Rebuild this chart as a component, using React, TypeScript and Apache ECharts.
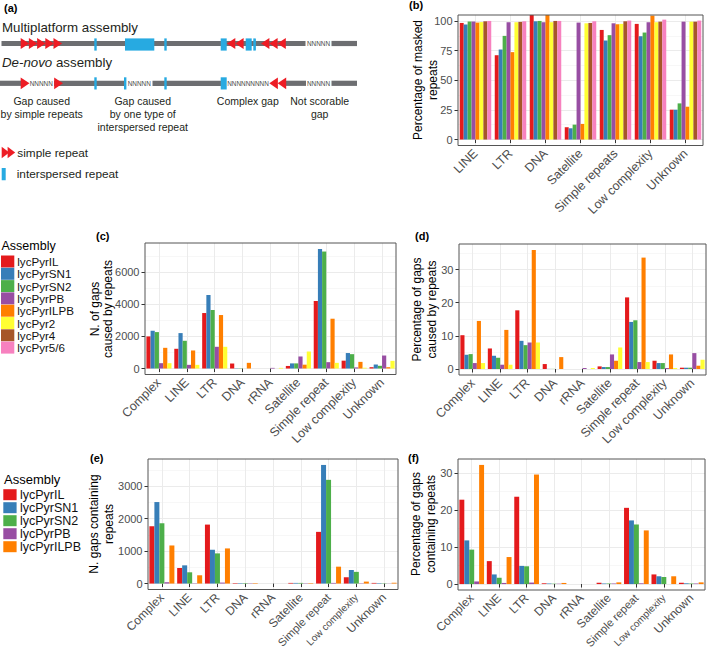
import React, { useEffect, useRef } from 'react';
import * as echarts from 'echarts';

const FONT = '"Liberation Sans", Arial, Helvetica, sans-serif';

// ---------- data ----------
const assemblies = ['lycPyrIL', 'lycPyrSN1', 'lycPyrSN2', 'lycPyrPB', 'lycPyrILPB', 'lycPyr2', 'lycPyr4', 'lycPyr5/6'];
const assemblyColors = ['#E41A1C', '#377EB8', '#4DAF4A', '#984EA3', '#FF7F00', '#FFFF33', '#A65628', '#F781BF'];

const repeatClasses = ['LINE', 'LTR', 'DNA', 'Satellite', 'Simple repeats', 'Low complexity', 'Unknown'];
const gapClasses = ['Complex', 'LINE', 'LTR', 'DNA', 'rRNA', 'Satellite', 'Simple repeat', 'Low complexity', 'Unknown'];

// (b) percentage of masked repeats
const maskedIL = [98.3, 71.1, 107, 10.4, 92.4, 97.5, 25.2];
const maskedSN1 = [97, 75.9, 99.7, 9.5, 83.5, 87.1, 25.2];
const maskedSN2 = [99.5, 87.4, 100, 12.6, 88, 90.2, 30.5];
const maskedPB = [99.5, 98.9, 98.9, 98.6, 98, 98.9, 99.4];
const maskedILPB = [98.6, 73.7, 107, 13.2, 97.2, 104.5, 27.7];
const maskedPyr2 = [99, 98.9, 98.9, 98, 97.5, 98.9, 99.4];
const maskedPyr4 = [99.7, 99.2, 100, 98.3, 99.7, 99.4, 99.4];
const maskedPyr56 = [100, 99.7, 100, 99.7, 100.3, 101.1, 100.3];

// (c) number of gaps caused by repeats
const causedNIL = [2000, 1230, 3458, 312, 0, 160, 4208, 490, 83];
const causedNSN1 = [2354, 2208, 4583, 20, 0, 320, 7450, 965, 250];
const causedNSN2 = [2270, 1729, 3646, 20, 0, 320, 7290, 895, 170];
const causedNPB = [333, 229, 1354, 0, 40, 750, 396, 70, 810];
const causedNILPB = [1290, 1125, 3333, 354, 0, 240, 3104, 415, 83];
const causedNPyr2 = [333, 229, 1354, 0, 40, 1060, 354, 50, 478];

// (d) percentage of gaps caused by repeats
const causedPIL = [10.2, 6.2, 17.7, 1.5, 0, 0.8, 21.6, 2.5, 0.4];
const causedPSN1 = [4.3, 4.0, 8.5, 0.05, 0, 0.6, 14.2, 1.8, 0.4];
const causedPSN2 = [4.5, 3.4, 7.2, 0.05, 0, 0.6, 14.7, 1.8, 0.4];
const causedPPB = [1.8, 1.3, 8.0, 0, 0.3, 4.4, 2.1, 0.3, 4.8];
const causedPILPB = [14.5, 11.8, 35.9, 3.6, 0, 2.5, 33.6, 4.4, 1.0];
const causedPPyr2 = [1.8, 1.3, 8.0, 0, 0.3, 6.5, 2.1, 0.3, 2.8];

// (e) number of gaps containing repeats
const containNIL = [1765, 480, 1816, 15, 0, 20, 1592, 194, 20];
const containNSN1 = [2510, 561, 1041, 15, 0, 20, 3653, 418, 15];
const containNSN2 = [1857, 347, 929, 15, 0, 20, 3194, 360, 10];
const containNPB = [41, 10, 30, 10, 0, 10, 20, 10, 5];
const containNILPB = [1173, 255, 1082, 15, 0, 15, 520, 60, 25];

// (f) percentage of gaps containing repeats
const containPIL = [22.8, 6.2, 23.6, 0.2, 0, 0.35, 20.6, 2.6, 0.35];
const containPSN1 = [11.8, 2.6, 4.9, 0.15, 0, 0.15, 17.2, 2.1, 0.2];
const containPSN2 = [9.3, 1.7, 4.8, 0.1, 0, 0.15, 16.1, 1.9, 0.15];
const containPPB = [0.7, 0.3, 0.4, 0.1, 0, 0.15, 0.2, 0, 0.15];
const containPILPB = [32.2, 7.3, 29.6, 0.3, 0, 0.45, 14.5, 2.1, 0.45];

// tick values
const ticksB = [0, 25, 50, 75, 100];
const minorB = [12.5, 37.5, 62.5, 87.5];
const ticksC = [0, 2000, 4000, 6000];
const minorC = [1000, 3000, 5000, 7000];
const ticksD = [0, 10, 20, 30];
const minorD = [5, 15, 25, 35];
const ticksE = [0, 1000, 2000, 3000];
const minorE = [500, 1500, 2500, 3500];
const ticksF = [0, 10, 20, 30];
const minorF = [5, 15, 25];

// ---------- layout ----------
type Panel = {
  grid: { left: number; top: number; width: number; height: number };
  cats: string[];
  data: number[][];
  min: number;
  max: number;
  ticks: number[];
  minor: number[];
  bottom?: boolean;
};

const panels: Panel[] = [
  {
    grid: { left: 458, top: 15, width: 245, height: 130.5 },
    cats: repeatClasses,
    data: [maskedIL, maskedSN1, maskedSN2, maskedPB, maskedILPB, maskedPyr2, maskedPyr4, maskedPyr56],
    min: -5, max: 105, ticks: ticksB, minor: minorB,
  },
  {
    grid: { left: 145, top: 243, width: 251, height: 131.5 },
    cats: gapClasses,
    data: [causedNIL, causedNSN1, causedNSN2, causedNPB, causedNILPB, causedNPyr2],
    min: -372.5, max: 7822.5, ticks: ticksC, minor: minorC,
  },
  {
    grid: { left: 459, top: 244, width: 247, height: 131 },
    cats: gapClasses,
    data: [causedPIL, causedPSN1, causedPSN2, causedPPB, causedPILPB, causedPPyr2],
    min: -1.8, max: 37.7, ticks: ticksD, minor: minorD,
  },
  {
    grid: { left: 148, top: 459, width: 250, height: 130.5 },
    cats: gapClasses,
    data: [containNIL, containNSN1, containNSN2, containNPB, containNILPB],
    min: -183, max: 3836, ticks: ticksE, minor: minorE, bottom: true,
  },
  {
    grid: { left: 458, top: 459, width: 247, height: 131 },
    cats: gapClasses,
    data: [containPIL, containPSN1, containPSN2, containPPB, containPILPB],
    min: -1.61, max: 33.8, ticks: ticksF, minor: minorF, bottom: true,
  },
];

const TICK_COLOR = '#4d4d4d';
const GRID_MAJOR = '#ebebeb';
const GRID_MINOR = '#f4f4f4';

function buildOption() {
  const grids: any[] = [];
  const xAxes: any[] = [];
  const yAxes: any[] = [];
  const series: any[] = [];
  panels.forEach((p, i) => {
    grids.push({
      ...p.grid,
      show: true,
      z: 5,
      backgroundColor: 'transparent',
      borderColor: '#555',
      borderWidth: 1,
      containLabel: false,
      outerBoundsMode: 'none',
    });
    const labelBase: any = {
      interval: 0, rotate: 45, fontSize: p.bottom ? 12 : 12.5, color: TICK_COLOR, fontFamily: FONT, margin: 6,
    };
    if (p.bottom) {
      labelBase.formatter = (v: string) =>
        v === 'Low complexity' ? `{lc|${v}}` : v === 'Simple repeat' ? `{sr|${v}}` : v;
      labelBase.rich = {
        lc: { fontSize: 10, color: TICK_COLOR, fontFamily: FONT },
        sr: { fontSize: 11.2, color: TICK_COLOR, fontFamily: FONT },
      };
    }
    xAxes.push({
      type: 'category',
      gridIndex: i,
      data: p.cats,
      axisLine: { show: false },
      axisTick: { show: true, alignWithLabel: true, interval: 0, length: 3.5, lineStyle: { color: '#333' } },
      axisLabel: labelBase,
      splitLine: { show: true, interval: 0, alignWithLabel: true, lineStyle: { color: GRID_MAJOR, width: 1 } },
    });
    yAxes.push({
      type: 'value',
      gridIndex: i,
      min: p.min,
      max: p.max,
      axisLine: { show: false },
      axisTick: { show: true, length: 3.5, customValues: p.ticks, lineStyle: { color: '#333' } },
      axisLabel: {
        customValues: p.ticks, fontSize: 11, color: TICK_COLOR, fontFamily: FONT, margin: 5.5,
        formatter: (v: number) => String(v),
      },
      splitLine: { show: true, lineStyle: { color: GRID_MAJOR, width: 1 } },
    });
    yAxes.push({
      type: 'value',
      gridIndex: i,
      position: 'left',
      min: p.min,
      max: p.max,
      axisLine: { show: false },
      axisTick: { show: false, customValues: p.minor },
      axisLabel: { show: false, customValues: p.minor },
      splitLine: { show: true, lineStyle: { color: GRID_MINOR, width: 0.7 } },
    });
    p.data.forEach((vals, s) => {
      series.push({
        type: 'bar',
        name: assemblies[s],
        xAxisIndex: i,
        yAxisIndex: i * 2,
        data: vals,
        barGap: '0%',
        barCategoryGap: '10%',
        itemStyle: { color: assemblyColors[s] },
        emphasis: { disabled: true },
        z: 2,
      });
    });
  });

  const txt = (text: string, x: number, y: number, extra: any = {}, style: any = {}) => ({
    type: 'text', x, y, silent: true, ...extra,
    style: { text, fontFamily: FONT, fontSize: 12, fill: '#000', align: 'left', verticalAlign: 'middle', ...style },
  });

  const RED = '#ED1C24';
  const BLUE = '#27AAE1';
  const GRAY = '#6D6E71';
  const g: any[] = [];

  // panel letters
  g.push(txt('(a)', 4, 8, {}, { fontWeight: 'bold', fontSize: 11 }));
  g.push(txt('(b)', 409, 5, {}, { fontWeight: 'bold', fontSize: 11 }));
  g.push(txt('(c)', 96, 236, {}, { fontWeight: 'bold', fontSize: 11 }));
  g.push(txt('(d)', 415, 236, {}, { fontWeight: 'bold', fontSize: 11 }));
  g.push(txt('(e)', 90, 458, {}, { fontWeight: 'bold', fontSize: 11 }));
  g.push(txt('(f)', 408, 458, {}, { fontWeight: 'bold', fontSize: 11 }));

  // y titles
  const yTitle = (text: string, x: number, y: number, lh = 15) =>
    txt(text, x, y, { rotation: Math.PI / 2 }, { align: 'center', lineHeight: lh, fontSize: 12 });
  g.push(yTitle('Percentage of masked\nrepeats', 425, 80));
  g.push(yTitle('N. of gaps\ncaused by repeats', 101.5, 309, 13.5));
  g.push(yTitle('Percentage of gaps\ncaused by repeats', 424, 309.5));
  g.push(yTitle('N. gaps containing\nrepeats', 101.5, 524));
  g.push(yTitle('Percentage of gaps\ncontaining repeats', 423.5, 524));

  // legend titles
  g.push(txt('Assembly', 1.5, 246, {}, { fontSize: 12.5 }));
  g.push(txt('Assembly', 4, 479.5, {}, { fontSize: 13 }));

  // ---------- schematic (a) ----------
  g.push(txt('Multiplatform assembly', 2, 27.5, {}, { fontSize: 13.3, fill: '#231F20' }));
  g.push(txt('{i|De-novo} assembly', 2, 62.5, {}, {
    fontSize: 13.3, fill: '#231F20',
    rich: { i: { fontStyle: 'italic', fontSize: 13.3, fontFamily: FONT, fill: '#231F20' } },
  }));

  const bar = (x1: number, x2: number, yc: number) => ({
    type: 'rect', silent: true, shape: { x: x1, y: yc - 2.6, width: x2 - x1, height: 5.2 }, style: { fill: GRAY },
  });
  const blue = (x: number, w: number, y: number) => ({
    type: 'rect', silent: true, shape: { x, y, width: w, height: 12.2 }, style: { fill: BLUE },
  });
  const triR = (x: number, yc: number, w = 8.6, h = 5.6) => ({
    type: 'polygon', silent: true, shape: { points: [[x, yc - h], [x + w, yc], [x, yc + h]] }, style: { fill: RED },
  });
  const triL = (x: number, yc: number, w = 8.6, h = 5.6) => ({
    type: 'polygon', silent: true, shape: { points: [[x + w, yc - h], [x, yc], [x + w, yc + h]] }, style: { fill: RED },
  });
  const nnn = (s: string, xc: number, yc: number) =>
    txt(s, xc, yc, {}, { align: 'center', fontSize: 6.4, fill: '#444' });

  const y1 = 43.5;
  const y2 = 83.3;
  g.push(bar(1.5, 305.5, y1), bar(331.5, 357, y1));
  [20.7, 28.9, 37.1, 45.3, 53.5].forEach((x) => g.push(triR(x, y1)));
  g.push(blue(94.3, 2.4, 38.4), blue(125, 29.3, 38.4), blue(164.3, 2.4, 38.4), blue(220.7, 6, 38.4),
    blue(245.7, 6, 38.4), blue(253.3, 2.6, 38.4));
  [226.9, 235.2].forEach((x) => g.push(triL(x, y1, 8.4)));
  [261, 269.2, 277.4].forEach((x) => g.push(triL(x, y1, 8.4)));
  g.push(nnn('NNNNN', 318.5, y1));

  g.push(bar(0, 22, y2), bar(54, 125, y2), bar(152.5, 221, y2), bar(285, 306, y2), bar(331.5, 357, y2));
  g.push(triR(20.7, y2, 8.8, 5.9), triR(54.2, y2, 8.8, 5.9));
  g.push(blue(94.3, 2.4, 77.3), blue(124, 2.4, 77.3), blue(164.3, 2.4, 77.3), blue(220.7, 6, 77.3));
  [269.3, 277.6].forEach((x) => g.push(triL(x, y2, 8.6, 5.9)));
  g.push(nnn('NNNNN', 41.2, y2), nnn('NNNNN', 139.2, y2), nnn('NNNNNNNNN', 248, y2), nnn('NNNNN', 318.5, y2));

  const cap = (text: string, xc: number) =>
    txt(text, xc, 95, {}, { align: 'center', verticalAlign: 'top', fontSize: 10.5, lineHeight: 12.7, fill: '#231F20' });
  g.push(cap('Gap caused\nby simple repeats', 41.7), cap('Gap caused\nby one type of\ninterspersed repeat', 142.7),
    cap('Complex gap', 247.8), cap('Not scorable\ngap', 319.7));

  // schematic legend
  g.push(triR(1.7, 152.5, 7.6, 5.8), triR(7.6, 152.5, 7.6, 5.8));
  g.push(txt('simple repeat', 17.3, 152.5, {}, { fontSize: 11.8, fill: '#231F20' }));
  g.push(blue(1.7, 4, 168));
  g.push(txt('interspersed repeat', 16.7, 174, {}, { fontSize: 11.8, fill: '#231F20' }));

  const legendCommon = {
    orient: 'vertical',
    icon: 'rect',
    selectedMode: false,
    padding: 0,
  };

  return {
    animation: false,
    backgroundColor: '#fff',
    textStyle: { fontFamily: FONT },
    grid: grids,
    xAxis: xAxes,
    yAxis: yAxes,
    series,
    legend: [
      {
        ...legendCommon,
        data: assemblies,
        left: 1,
        top: 255.5,
        itemWidth: 13.3,
        itemHeight: 12,
        itemGap: 0.3,
        textStyle: { fontSize: 11.6, lineHeight: 12, color: '#111', fontFamily: FONT, padding: [0, 0, 0, -2] },
      },
      {
        ...legendCommon,
        data: assemblies.slice(0, 5),
        left: 3.3,
        top: 488.2,
        itemWidth: 13.3,
        itemHeight: 11,
        itemGap: 0,
        textStyle: { fontSize: 12.5, lineHeight: 11.7, color: '#111', fontFamily: FONT, padding: [0, 0, 0, -1.7] },
      },
    ],
    graphic: { elements: g },
  };
}

export default function App() {
  const ref = useRef<HTMLDivElement>(null);
  useEffect(() => {
    if (!ref.current) return;
    const chart = echarts.init(ref.current, null, { renderer: 'svg' });
    chart.setOption(buildOption() as any);
    return () => chart.dispose();
  }, []);
  return <div ref={ref} style={{ position: 'absolute', left: 0, top: 0, width: 709, height: 650 }} />;
}
